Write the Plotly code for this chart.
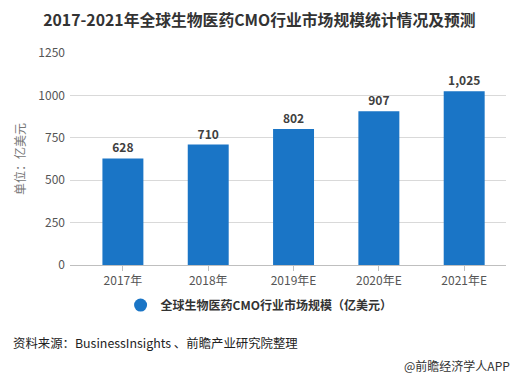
import plotly.graph_objects as go

categories = ["2017年", "2018年", "2019年E", "2020年E", "2021年E"]
values = [628, 710, 802, 907, 1025]
value_labels = ["628", "710", "802", "907", "1,025"]
series_name = "全球生物医药CMO行业市场规模（亿美元）"
y_ticks = [0, 250, 500, 750, 1000, 1250]

FONT = "Noto Sans CJK SC"
BAR = "#1a75c6"

# page body has an 8px default margin, so the figure is drawn 8px shorter/narrower
W, H = 511, 369
L, R, T, B = 59, 13, 45, 112
PW, PH = W - L - R, H - T - B

fig = go.Figure()
fig.add_trace(go.Bar(
    x=list(range(len(categories))), y=values, name=series_name,
    marker=dict(color=BAR, line=dict(width=0)),
    width=0.48,
    text=value_labels, textposition="outside",
    textfont=dict(family=FONT, size=12, color="#404040", weight="bold"),
    cliponaxis=False,
    showlegend=False,
))
fig.add_trace(go.Scatter(
    x=[None], y=[None], mode="markers", name=series_name,
    marker=dict(color=BAR, size=13, symbol="circle"),
))

fig.update_layout(
    width=W, height=H,
    margin=dict(l=L, r=R, t=T, b=B),
    paper_bgcolor="white", plot_bgcolor="white",
    font=dict(family=FONT, size=12, color="#555555"),
    title=dict(text="<b>2017-2021年全球生物医药CMO行业市场规模统计情况及预测</b>",
               x=0.492, xanchor="center", y=1 - 12 / H, yanchor="middle",
               font=dict(family=FONT, size=15.8, color="#333333")),
    xaxis=dict(
        tickmode="array", tickvals=list(range(len(categories))), ticktext=categories,
        range=[-0.62, 4.49], showgrid=False,
        showline=True, linecolor="#bfbfbf", linewidth=1,
        ticks="outside", ticklen=5, tickcolor="#bfbfbf",
        tickfont=dict(size=12, color="#555555"), zeroline=False,
    ),
    yaxis=dict(
        range=[0, 1250], tickvals=y_ticks, showgrid=True, gridcolor="#d9d9d9",
        gridwidth=1, zeroline=False, showline=False, ticks="",
        tickfont=dict(size=12, color="#555555"), ticklabelstandoff=4,
        title=dict(text="单位：亿美元", font=dict(size=12, color="#777777"), standoff=10),
    ),
    legend=dict(orientation="h", x=0.116, xanchor="left", y=-0.189, yanchor="middle",
                font=dict(size=12, color="#333333", weight="bold")),
    annotations=[
        dict(text="资料来源：BusinessInsights 、前瞻产业研究院整理", xref="paper", yref="paper",
             x=-L / PW, y=-(343 - 265) / PH, xanchor="left", yanchor="middle",
             showarrow=False, font=dict(size=12.4, color="#222222")),
        dict(text="@前瞻经济学人APP", xref="paper", yref="paper",
             x=1 + 6 / PW, y=-(365 - 265) / PH, xanchor="right", yanchor="middle",
             showarrow=False, font=dict(size=12, color="#333333")),
    ],
)

fig.write_html("out.html")
